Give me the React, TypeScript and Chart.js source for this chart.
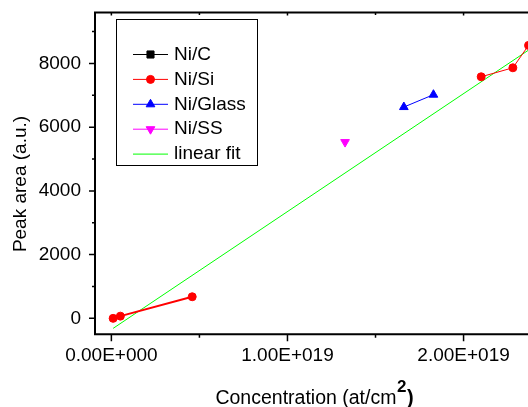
import React, { useEffect, useRef } from 'react';
import { Chart, registerables } from 'chart.js';

Chart.register(...registerables);

const FONT = "'Liberation Sans', Arial, Helvetica, sans-serif";

// ---- data ----
const seriesLabels = ['Ni/C', 'Ni/Si', 'Ni/Glass', 'Ni/SS', 'linear fit'];
const seriesColors = ['#000000', '#ff0000', '#0000ff', '#ff00ff', '#00ff00'];

const niCX: number[] = [];
const niCY: number[] = [];

const niSiLowX = [1.0e17, 5.1e17, 4.59e18];
const niSiLowY = [0, 70, 678];
const niSiHighX = [2.1e19, 2.28e19, 2.369e19];
const niSiHighY = [7580, 7862, 8565];

const niGlassX = [1.661e19, 1.829e19];
const niGlassY = [6630, 7018];

const niSSX = [1.327e19];
const niSSY = [5531];

const fitX = [1.0e17, 2.369e19];
const fitY = [-314, 8417];

const xMin = -0.093e19;
const xMax = 2.4e19;
const yMin = -500;
const yMax = 9600;

const xTickValues = [0, 1e19, 2e19];
const xTickLabels = ['0.00E+000', '1.00E+019', '2.00E+019'];
const xMinorTickValues = [0.5e19, 1.5e19];
const yTickValues = [0, 2000, 4000, 6000, 8000];
const yTickLabels = ['0', '2000', '4000', '6000', '8000'];
const yMinorTickValues = [1000, 3000, 5000, 7000, 9000];

const xTitleMain = 'Concentration (at/cm';
const xTitleSup = '2';
const xTitleEnd = ')';
const yTitle = 'Peak area (a.u.)';

const pts = (xs: number[], ys: number[]) => xs.map((x, i) => ({ x, y: ys[i] }));

function drawMarker(ctx: CanvasRenderingContext2D, style: string, x: number, y: number, r: number, rot: number, color: string) {
  if (!r) return;
  ctx.save();
  ctx.fillStyle = color;
  ctx.strokeStyle = color;
  ctx.lineWidth = 1;
  ctx.beginPath();
  if (style === 'rect') {
    const s = r * Math.SQRT1_2;
    ctx.rect(x - s, y - s, 2 * s, 2 * s);
  } else if (style === 'triangle') {
    const a0 = (rot * Math.PI) / 180;
    for (let k = 0; k < 3; k++) {
      const a = a0 + (k * 2 * Math.PI) / 3;
      const px = x + Math.sin(a) * r;
      const py = y - Math.cos(a) * r;
      if (k === 0) ctx.moveTo(px, py);
      else ctx.lineTo(px, py);
    }
    ctx.closePath();
  } else {
    ctx.arc(x, y, r, 0, Math.PI * 2);
  }
  ctx.fill();
  ctx.stroke();
  ctx.restore();
}

const framePlugin = {
  id: 'frame',
  afterDraw(chart: any) {
    const { ctx, chartArea, scales } = chart;
    const { left, top, right, bottom } = chartArea;
    const xs = scales.x;
    const ys = scales.y;
    ctx.save();
    ctx.strokeStyle = '#000';
    ctx.lineWidth = 2;
    ctx.beginPath();
    ctx.moveTo(left, bottom);
    ctx.lineTo(left, top);
    ctx.lineTo(right, top);
    ctx.lineTo(right, bottom);
    ctx.closePath();
    ctx.stroke();

    ctx.lineWidth = 1.5;
    ctx.beginPath();
    yTickValues.forEach((v) => {
      const p = ys.getPixelForValue(v);
      ctx.moveTo(left, p);
      ctx.lineTo(left - 6, p);
    });
    yMinorTickValues.forEach((v) => {
      const p = ys.getPixelForValue(v);
      ctx.moveTo(left, p);
      ctx.lineTo(left - 3, p);
    });
    xTickValues.forEach((v) => {
      const p = xs.getPixelForValue(v);
      ctx.moveTo(p, bottom);
      ctx.lineTo(p, bottom + 7);
      ctx.moveTo(p, top);
      ctx.lineTo(p, top + 3);
    });
    xMinorTickValues.forEach((v) => {
      const p = xs.getPixelForValue(v);
      ctx.moveTo(p, bottom);
      ctx.lineTo(p, bottom + 3.5);
      ctx.moveTo(p, top);
      ctx.lineTo(p, top + 2.5);
    });
    ctx.stroke();

    ctx.fillStyle = '#000';

    // y-axis title
    ctx.save();
    ctx.translate(20.4, 184);
    ctx.rotate(-Math.PI / 2);
    ctx.font = `19px ${FONT}`;
    ctx.textAlign = 'center';
    ctx.textBaseline = 'middle';
    ctx.fillText(yTitle, 0, 0);
    ctx.restore();

    // x-axis title with bold superscript
    const cx = (left + right) / 2;
    const base = 403.5;
    ctx.textBaseline = 'alphabetic';
    ctx.textAlign = 'left';
    ctx.font = `19.5px ${FONT}`;
    const w1 = ctx.measureText(xTitleMain).width;
    ctx.font = `bold 17px ${FONT}`;
    const w2 = ctx.measureText(xTitleSup).width;
    ctx.font = `bold 20px ${FONT}`;
    const w3 = ctx.measureText(xTitleEnd).width;
    const total = w1 + w2 + w3 + 1;
    const x0 = cx - total / 2;
    ctx.font = `19.5px ${FONT}`;
    ctx.fillText(xTitleMain, x0, base);
    ctx.font = `bold 17px ${FONT}`;
    ctx.fillText(xTitleSup, x0 + w1 + 0.5, base - 12);
    ctx.font = `bold 20px ${FONT}`;
    ctx.fillText(xTitleEnd, x0 + w1 + w2 + 1, base);

    // legend
    const bx = 116, by = 19, bw = 141, bh = 146;
    ctx.lineWidth = 1;
    ctx.strokeStyle = '#000';
    ctx.strokeRect(bx + 0.5, by + 0.5, bw, bh);
    const rowY0 = 54.5;
    const rowStep = 24.9;
    chart.data.datasets.forEach((ds: any, i: number) => {
      const yy = rowY0 + i * rowStep;
      ctx.strokeStyle = ds.borderColor;
      ctx.lineWidth = 1;
      ctx.beginPath();
      ctx.moveTo(133, yy);
      ctx.lineTo(168, yy);
      ctx.stroke();
      drawMarker(ctx, ds.pointStyle, 150.5, yy, ds.pointRadius, ds.pointRotation || 0, ds.borderColor);
      ctx.fillStyle = '#000';
      ctx.font = `19px ${FONT}`;
      ctx.textBaseline = 'middle';
      ctx.textAlign = 'left';
      ctx.fillText(ds.label, 174, yy);
    });
    ctx.restore();
  },
};

export default function App() {
  const ref = useRef<HTMLCanvasElement>(null);

  useEffect(() => {
    const canvas = ref.current;
    if (!canvas) return;
    const niSiData: any[] = [
      ...pts(niSiLowX, niSiLowY),
      { x: (niSiLowX[niSiLowX.length - 1] + niSiHighX[0]) / 2, y: null },
      ...pts(niSiHighX, niSiHighY),
    ];
    const chart = new Chart(canvas, {
      type: 'scatter',
      data: {
        datasets: [
          {
            label: seriesLabels[0],
            data: pts(niCX, niCY),
            showLine: true,
            borderColor: seriesColors[0],
            backgroundColor: seriesColors[0],
            borderWidth: 1,
            pointStyle: 'rect',
            pointRadius: 5,
            pointBorderWidth: 1,
          },
          {
            label: seriesLabels[1],
            data: niSiData,
            showLine: true,
            spanGaps: false,
            borderColor: seriesColors[1],
            backgroundColor: seriesColors[1],
            borderWidth: 1,
            segment: {
              borderWidth: (c: any) => (c.p1.parsed.x < 1e19 ? 2 : 1),
            },
            pointStyle: 'circle',
            pointRadius: 4,
            pointBorderWidth: 1,
          },
          {
            label: seriesLabels[2],
            data: pts(niGlassX, niGlassY),
            showLine: true,
            borderColor: seriesColors[2],
            backgroundColor: seriesColors[2],
            borderWidth: 1,
            pointStyle: 'triangle',
            pointRadius: 5,
            pointBorderWidth: 1,
          },
          {
            label: seriesLabels[3],
            data: pts(niSSX, niSSY),
            showLine: true,
            borderColor: seriesColors[3],
            backgroundColor: seriesColors[3],
            borderWidth: 1,
            pointStyle: 'triangle',
            pointRotation: 180,
            pointRadius: 5,
            pointBorderWidth: 1,
          },
          {
            label: seriesLabels[4],
            data: pts(fitX, fitY),
            showLine: true,
            borderColor: seriesColors[4],
            backgroundColor: seriesColors[4],
            borderWidth: 1,
            pointRadius: 0,
            pointStyle: 'circle',
          },
        ] as any,
      },
      options: {
        animation: false,
        responsive: false,
        maintainAspectRatio: false,
        events: [],
        layout: { autoPadding: false, padding: { top: 12.4, left: 0, right: 12, bottom: 0 } },
        plugins: { legend: { display: false }, tooltip: { enabled: false } },
        scales: {
          x: {
            type: 'linear',
            min: xMin,
            max: xMax,
            grid: { display: false, drawTicks: false },
            border: { display: false },
            afterBuildTicks: (s: any) => {
              s.ticks = xTickValues.map((v) => ({ value: v }));
            },
            afterFit: (s: any) => {
              s.height = 72.7;
              s.paddingLeft = 0;
              s.paddingRight = 0;
              s.paddingTop = 0;
              s.paddingBottom = 0;
            },
            ticks: {
              color: '#000',
              font: { family: FONT, size: 19 },
              padding: 10,
              maxRotation: 0,
              autoSkip: false,
              callback: (v: any) => xTickLabels[xTickValues.indexOf(Number(v))] ?? '',
            },
          },
          y: {
            type: 'linear',
            min: yMin,
            max: yMax,
            grid: { display: false, drawTicks: false },
            border: { display: false },
            afterBuildTicks: (s: any) => {
              s.ticks = yTickValues.map((v) => ({ value: v }));
            },
            afterFit: (s: any) => {
              s.width = 95;
              s.paddingLeft = 0;
              s.paddingRight = 0;
              s.paddingTop = 0;
              s.paddingBottom = 0;
            },
            ticks: {
              color: '#000',
              font: { family: FONT, size: 19 },
              padding: 14,
              autoSkip: false,
              callback: (v: any) => yTickLabels[yTickValues.indexOf(Number(v))] ?? '',
            },
          },
        },
      } as any,
      plugins: [framePlugin],
    });
    return () => chart.destroy();
  }, []);

  return (
    <div
      style={{
        position: 'fixed',
        left: 0,
        top: 0,
        width: 528,
        height: 407,
        overflow: 'hidden',
        background: '#fff',
      }}
    >
      <canvas ref={ref} width={546} height={407} style={{ display: 'block', width: 546, height: 407 }} />
    </div>
  );
}
